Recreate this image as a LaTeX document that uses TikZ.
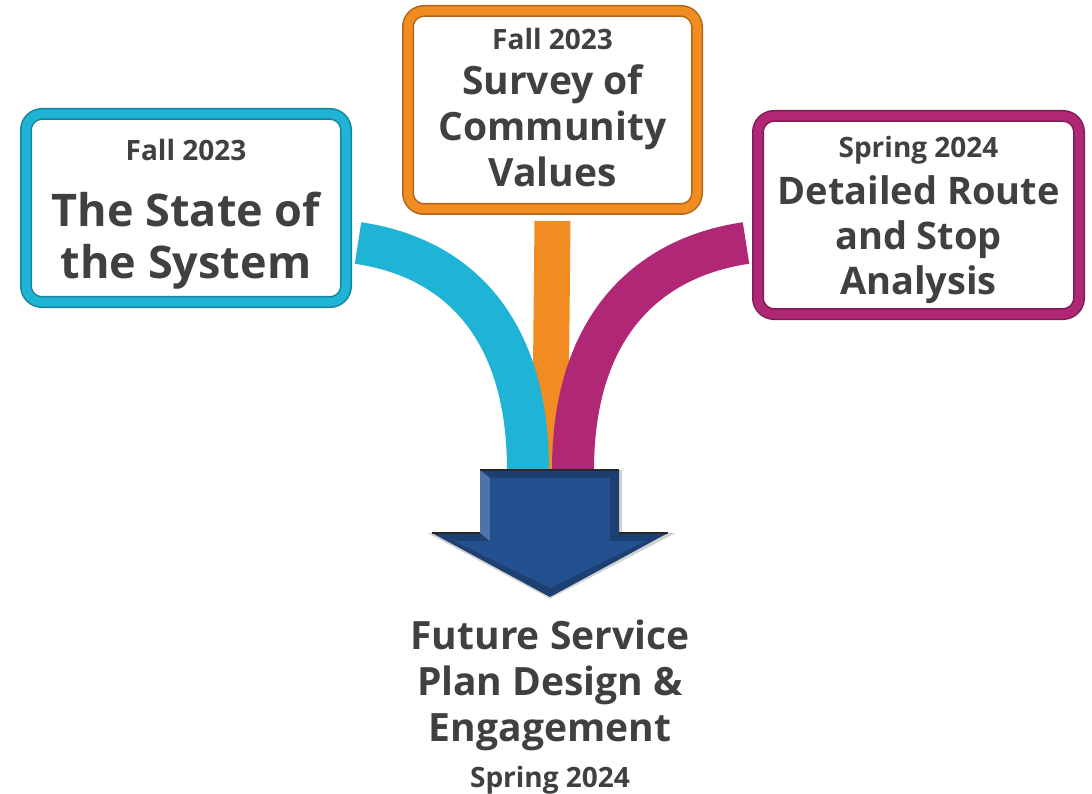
\documentclass[tikz,border=0pt]{standalone}
\usepackage{fontspec}
\setmainfont{Open Sans}
\usetikzlibrary{positioning}
\definecolor{bandcyan}{HTML}{1FB4D5}
\definecolor{bandorange}{HTML}{F18C22}
\definecolor{bandmagenta}{HTML}{B02776}
\definecolor{arrowblue}{HTML}{23508F}
\definecolor{txtgray}{HTML}{404040}
\newcommand{\yearline}[1]{{\fontsize{28}{34}\selectfont #1}}
\newcommand{\upstrut}[1]{\rule{0pt}{#1}}
\begin{document}
\begin{tikzpicture}[x=1pt, y=-1pt,
		stage/.style={rounded corners=16pt, line width=12pt, draw=#1!72!black, fill=white,
			align=center, text=txtgray, inner sep=0pt,
			postaction={draw=#1, line width=9pt}},
		band/.style={draw=#1, line width=42pt}]
	\useasboundingbox (0,0) rectangle (1092,794);
	\node[stage=bandcyan, minimum width=320pt, minimum height=188pt,
		font=\bfseries\fontsize{45}{52}\selectfont] (state) at (186,208)
		{\upstrut{34pt}\yearline{Fall 2023}\\[14pt]The State of\\the System};
	\node[stage=bandorange, minimum width=289pt, minimum height=198pt,
		font=\bfseries\fontsize{39}{46}\selectfont] (survey) at (552.5,110)
		{\yearline{Fall 2023}\\[-1pt]Survey of\\Community\\Values\rule[-6pt]{0pt}{0pt}};
	\node[stage=bandmagenta, minimum width=321pt, minimum height=198pt,
		font=\bfseries\fontsize{38}{45}\selectfont] (detail) at (918.5,215)
		{\upstrut{31pt}\yearline{Spring 2024}\\[2pt]Detailed Route\\and Stop\\Analysis};
	\coordinate (tail) at (550,470);
	\coordinate (tip) at (550,597);
	\draw[band=bandorange, line width=36pt] ([yshift=-6pt]survey.south) -- (tail);
	\draw[band=bandcyan] ([xshift=6pt, yshift=-35pt]state.east) .. controls (460,258) and (528,330) .. ([xshift=-22pt]tail);
	\draw[band=bandmagenta] ([xshift=-6pt, yshift=-28pt]detail.west) .. controls (644,258) and (573,330) .. ([xshift=23pt]tail);
	\draw[gray!35, line width=3pt, shift={(1.5,1.5)}] (480,470) -- (619,470) -- (619,533) -- (668,533) -- (tip) -- (432,533) -- (480,533) -- cycle;
	\fill[arrowblue!80!black] (480,470) -- (619,470) -- (619,533) -- (668,533) -- (tip) -- (432,533) -- (480,533) -- cycle;
	\fill[arrowblue!80!white] (480,470) -- (490,478) -- (490,541) -- (480,533) -- cycle;
	\fill[arrowblue] (490,478) -- (610,478) -- (610,541) -- (646,541) -- (550,588) -- (454,541) -- (490,541) -- cycle;
	\draw[black!85, line width=1.5pt] (480,470) -- (619,470);
	\draw[black!85, line width=1.2pt] (432,533) -- (480,533) (619,533) -- (668,533);
	\node[below=23pt of tip, align=center, inner sep=0pt, text=txtgray,
		font=\bfseries\fontsize{39}{46}\selectfont] (plan)
		{Future Service\\Plan Design \&\\Engagement\\\yearline{Spring 2024}};
\end{tikzpicture}
\end{document}
